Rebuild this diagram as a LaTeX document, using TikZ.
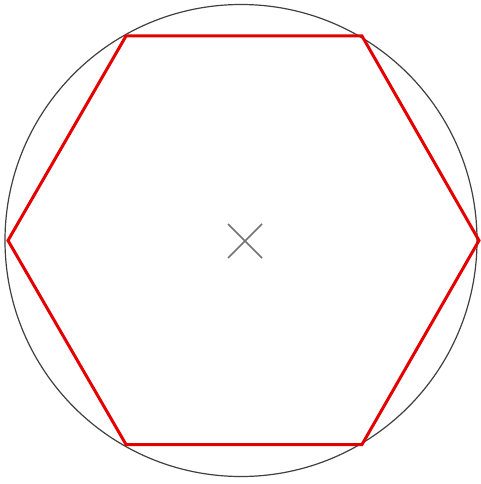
\documentclass[tikz,border=0pt]{standalone}
\begin{document}
\begin{tikzpicture}[x=1pt,y=-1pt,
  circleline/.style={draw=black!75,line width=1.2pt},
  hexline/.style={draw=red!90!black,line width=3pt,line join=miter},
  crossline/.style={draw=black!55,line width=1.5pt}]
\useasboundingbox (0,0) rectangle (481,484);
\fill[white] (0,0) rectangle (481,484);
\coordinate (c) at (241,240.5);
\draw[circleline] (c) circle[radius=236];
\draw[hexline] (8,240.5) -- (126,36) -- (362,36) -- (479,240.5) -- (362,444.5) -- (126,444.5) -- cycle;
\draw[crossline] (228,224) -- (262,258);
\draw[crossline] (228,258) -- (262,224);
\end{tikzpicture}
\end{document}
